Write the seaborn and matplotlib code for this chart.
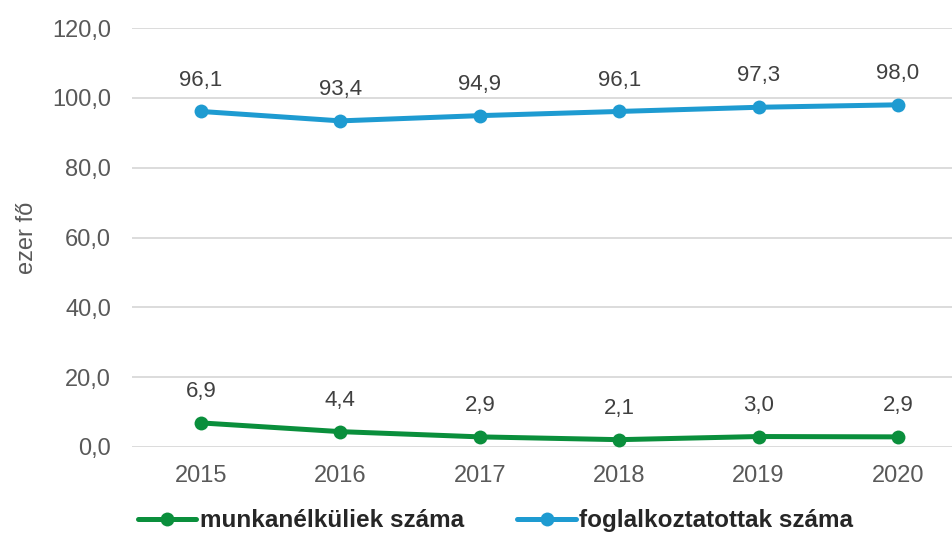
import matplotlib
matplotlib.use("Agg")
import matplotlib.pyplot as plt
import seaborn as sns
import pandas as pd
from matplotlib.lines import Line2D

years = ["2015", "2016", "2017", "2018", "2019", "2020"]
munkanelkuliek = [6.9, 4.4, 2.9, 2.1, 3.0, 2.9]
foglalkoztatottak = [96.1, 93.4, 94.9, 96.1, 97.3, 98.0]
series_names = ["munkanélküliek száma", "foglalkoztatottak száma"]
yticks = [0, 20, 40, 60, 80, 100, 120]

GREEN = "#0A8F3C"
BLUE = "#1E9BD1"

sns.set_theme(style="white")
plt.rcParams["font.family"] = ["Liberation Sans", "DejaVu Sans"]

rows = []
for i, y in enumerate(years):
    rows.append({"idx": i, "value": munkanelkuliek[i], "series": series_names[0]})
    rows.append({"idx": i, "value": foglalkoztatottak[i], "series": series_names[1]})
df = pd.DataFrame(rows)

fig = plt.figure(figsize=(9.53, 5.35), dpi=100)
ax = fig.add_axes([132 / 953, 1 - 447 / 535, 1 - 132 / 953, (447 - 28) / 535])

sns.lineplot(data=df, x="idx", y="value", hue="series",
             palette={series_names[0]: GREEN, series_names[1]: BLUE},
             marker="o", markersize=10, markeredgewidth=0, linewidth=3.6,
             ax=ax, legend=False, zorder=3)

step = 139.4
ax.set_xlim(-(201 - 132) / step, (953 - 201) / step)
ax.set_ylim(0, 120)
ax.set_yticks(yticks)
ax.set_yticklabels([f"{v:.1f}".replace(".", ",") for v in yticks])
ax.set_xticks(range(len(years)))
ax.set_xticklabels(years)
ax.tick_params(axis="both", length=0, labelsize=17, colors="#595959")
ax.tick_params(axis="y", pad=15)
ax.tick_params(axis="x", pad=13)
ax.grid(axis="y", color="#D9D9D9", linewidth=1.3)
ax.grid(axis="x", visible=False)
for s in ax.spines.values():
    s.set_visible(False)
ax.set_xlabel("")
ax.set_ylabel("ezer fő", fontsize=17, color="#595959")
ax.yaxis.set_label_coords((38 - 132) / (953 - 132), 0.5)

for vals in (munkanelkuliek, foglalkoztatottak):
    for i, v in enumerate(vals):
        ax.annotate(f"{v:.1f}".replace(".", ","), (i, v), xytext=(0, 15),
                    textcoords="offset points", ha="center", va="bottom",
                    fontsize=16, color="#404040")

handles = [
    Line2D([], [], color=GREEN, linewidth=3.6, marker="o", markersize=10, markeredgewidth=0),
    Line2D([], [], color=BLUE, linewidth=3.6, marker="o", markersize=10, markeredgewidth=0),
]
fig.legend(handles, series_names, loc="center", bbox_to_anchor=(0.52, 0.027),
           ncol=2, frameon=False, handlelength=2.4, handletextpad=0.15,
           columnspacing=2.2, borderpad=0, prop={"size": 17.5, "weight": "bold"})

fig.savefig("out.png", dpi=100)
